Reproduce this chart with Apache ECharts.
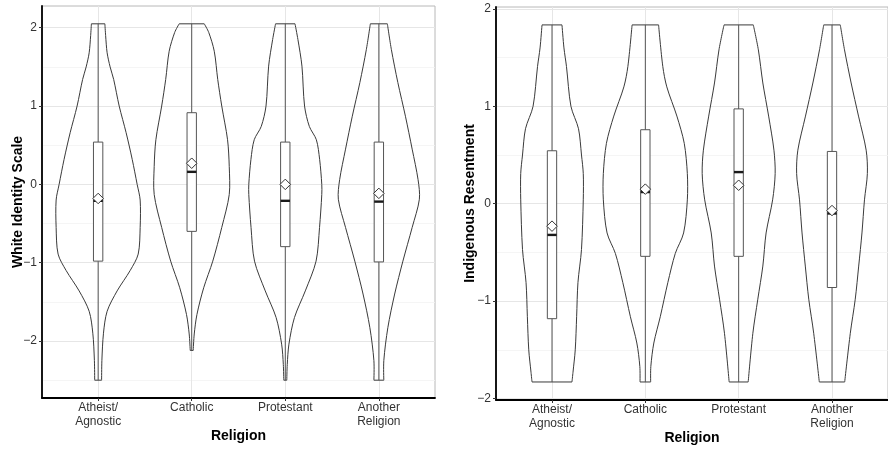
<!DOCTYPE html>
<html>
<head>
<meta charset="utf-8">
<script src="https://cdn.jsdelivr.net/npm/echarts@6/dist/echarts.min.js"></script>
<style>
  html, body { margin: 0; padding: 0; background: #ffffff; }
  #chart { width: 888px; height: 449px; }
</style>
</head>
<body>
<div id="chart"></div>
<script>
// Religion groups on the x axis
const categories = ['Atheist/\nAgnostic', 'Catholic', 'Protestant', 'Another\nReligion'];

// ---- White Identity Scale ----
// Violin outlines: [scale value, half-width in category units]
const wisAtheist = [[2.05,0.072],[1.9,0.080],[1.68,0.096],[1.5,0.128],[1.34,0.166],[1.0,0.225],[0.66,0.299],[0.32,0.364],[0.0,0.417],[-0.2,0.449],[-0.55,0.449],[-0.89,0.428],[-1.1,0.342],[-1.36,0.203],[-1.62,0.096],[-1.9,0.057],[-2.25,0.040],[-2.5,0.037]];
const wisCatholic = [[2.05,0.134],[1.94,0.182],[1.7,0.241],[1.34,0.278],[1.0,0.321],[0.57,0.383],[0.23,0.401],[-0.13,0.401],[-0.55,0.321],[-0.98,0.225],[-1.32,0.128],[-1.66,0.056],[-1.91,0.027],[-2.12,0.016]];
const wisProtestant = [[2.05,0.104],[1.85,0.135],[1.51,0.178],[1.0,0.206],[0.74,0.257],[0.57,0.332],[0.32,0.367],[0.0,0.390],[-0.13,0.390],[-0.55,0.366],[-0.98,0.329],[-1.36,0.214],[-1.7,0.098],[-2.04,0.039],[-2.3,0.021],[-2.5,0.016]];
const wisAnother = [[2.05,0.091],[1.72,0.134],[1.3,0.203],[0.87,0.284],[0.45,0.356],[0.06,0.419],[-0.19,0.433],[-0.55,0.356],[-0.98,0.257],[-1.4,0.169],[-1.83,0.096],[-2.25,0.053],[-2.5,0.053]];
// Box plot summaries
const wisLower  = [-2.5, -2.12, -2.5, -2.5];
const wisQ1     = [-0.98, -0.60, -0.795, -0.99];
const wisMedian = [-0.21, 0.16, -0.21, -0.22];
const wisQ3     = [0.54, 0.915, 0.54, 0.54];
const wisUpper  = [2.05, 2.05, 2.05, 2.05];
const wisMean   = [-0.18, 0.27, 0.0, -0.115];
const wisTicks  = [-2, -1, 0, 1, 2];
const wisMinor  = [-2.5, -1.5, -0.5, 0.5, 1.5];

// ---- Indigenous Resentment ----
const irAtheist = [[1.836,0.107],[1.6,0.128],[1.41,0.155],[1.0,0.203],[0.77,0.284],[0.5,0.316],[0.31,0.335],[0.04,0.335],[-0.47,0.316],[-0.81,0.278],[-1.16,0.264],[-1.5,0.249],[-1.73,0.225],[-1.83,0.214]];
const irCatholic = [[1.836,0.142],[1.41,0.187],[1.2,0.230],[0.9,0.338],[0.62,0.417],[0.31,0.450],[0.04,0.450],[-0.3,0.410],[-0.51,0.321],[-0.81,0.241],[-1.16,0.160],[-1.43,0.091],[-1.67,0.059],[-1.83,0.057]];
const irProtestant = [[1.836,0.157],[1.58,0.211],[1.24,0.259],[0.9,0.321],[0.55,0.378],[0.31,0.391],[0.04,0.364],[-0.3,0.294],[-0.64,0.259],[-0.98,0.205],[-1.33,0.152],[-1.83,0.102]];
const irAnother = [[1.836,0.089],[1.58,0.134],[1.24,0.205],[0.9,0.284],[0.55,0.366],[0.31,0.379],[0.04,0.348],[-0.3,0.321],[-0.64,0.286],[-0.98,0.249],[-1.33,0.196],[-1.83,0.136]];
const irLower  = [-1.83, -1.83, -1.83, -1.83];
const irQ1     = [-1.18, -0.54, -0.54, -0.86];
const irMedian = [-0.32, 0.12, 0.325, -0.10];
const irQ3     = [0.544, 0.76, 0.974, 0.537];
const irUpper  = [1.836, 1.836, 1.836, 1.836];
const irMean   = [-0.23, 0.15, 0.19, -0.07];
const irTicks  = [-2, -1, 0, 1, 2];
const irMinor  = [-1.5, -0.5, 0.5, 1.5];

const FONT = 'Liberation Sans, Arial, Helvetica, sans-serif';
const catPositions = categories.map((c, i) => i + 1);
const minusSign = v => String(v).replace('-', '\u2212');

// Outline of a violin: two smoothed sides joined by flat ends
function violinRenderer(shapes) {
  return function (params, api) {
    const cx = api.value(0);
    const pts = shapes[params.dataIndex];
    const left = pts.map(p => api.coord([cx - p[1], p[0]]));
    const right = pts.map(p => api.coord([cx + p[1], p[0]]));
    const n = pts.length - 1;
    const style = { stroke: '#3a3a3a', lineWidth: 1, fill: 'none' };
    return {
      type: 'group',
      children: [
        { type: 'polyline', shape: { points: left, smooth: 0.3 }, style },
        { type: 'polyline', shape: { points: right, smooth: 0.3 }, style },
        { type: 'line', shape: { x1: left[0][0], y1: left[0][1], x2: right[0][0], y2: right[0][1] }, style },
        { type: 'line', shape: { x1: left[n][0], y1: left[n][1], x2: right[n][0], y2: right[n][1] }, style }
      ]
    };
  };
}

// Whisker line, white box and bold median
function boxRenderer(params, api) {
  const cx = api.value(0);
  const half = 0.05;
  const pLow = api.coord([cx, api.value(1)]);
  const pQ1 = api.coord([cx, api.value(2)]);
  const pMed = api.coord([cx, api.value(3)]);
  const pQ3 = api.coord([cx, api.value(4)]);
  const pUp = api.coord([cx, api.value(5)]);
  const xl = api.coord([cx - half, 0])[0];
  const xr = api.coord([cx + half, 0])[0];
  const lineStyle = { stroke: '#555555', lineWidth: 1, fill: 'none' };
  return {
    type: 'group',
    children: [
      { type: 'line', shape: { x1: pUp[0], y1: pUp[1], x2: pLow[0], y2: pLow[1] }, style: lineStyle },
      { type: 'rect', shape: { x: xl, y: pQ3[1], width: xr - xl, height: pQ1[1] - pQ3[1] },
        style: { fill: '#ffffff', stroke: '#555555', lineWidth: 1 } },
      { type: 'line', shape: { x1: xl, y1: pMed[1], x2: xr, y2: pMed[1] },
        style: { stroke: '#1a1a1a', lineWidth: 2.4 } }
    ]
  };
}

function xAxisFor(gridIndex) {
  return {
    type: 'value', gridIndex, min: 0.4, max: 4.6,
    axisLine: { show: true, onZero: false, lineStyle: { color: '#000', width: 1.8 } },
    axisTick: { show: true, length: 3, customValues: catPositions, lineStyle: { color: '#333' } },
    axisLabel: {
      customValues: catPositions, margin: 3, fontSize: 12, lineHeight: 14,
      color: '#333', fontFamily: FONT,
      formatter: v => categories[Math.round(v) - 1]
    },
    splitLine: { show: true, lineStyle: { color: '#e6e6e6', width: 1 } },
    name: 'Religion', nameLocation: 'middle', nameGap: 31, nameMoveOverlap: false,
    nameTextStyle: { fontSize: 14, fontWeight: 'bold', color: '#000', fontFamily: FONT }
  };
}

function yAxisFor(gridIndex, min, max, ticks, title, gap) {
  return {
    type: 'value', gridIndex, min, max,
    axisLine: { show: true, onZero: false, lineStyle: { color: '#000', width: 1.8 } },
    axisTick: { show: true, length: 3, customValues: ticks, lineStyle: { color: '#333' } },
    axisLabel: { customValues: ticks, margin: 5, fontSize: 12, color: '#333', fontFamily: FONT, formatter: minusSign },
    splitLine: { show: true, lineStyle: { color: '#e6e6e6', width: 1 } },
    name: title, nameLocation: 'middle', nameGap: gap, nameMoveOverlap: false,
    nameTextStyle: { fontSize: 14, fontWeight: 'bold', color: '#000', fontFamily: FONT }
  };
}

function minorAxisFor(gridIndex, min, max, minor) {
  return {
    type: 'value', gridIndex, min, max, position: 'left',
    axisLine: { show: false },
    axisTick: { show: false, customValues: minor },
    axisLabel: { show: false, customValues: minor },
    splitLine: { show: true, lineStyle: { color: '#f2f2f2', width: 0.8 } }
  };
}

function panelSeries(gridAxis, shapes, lower, q1, med, q3, upper, mean) {
  return [
    {
      type: 'custom', xAxisIndex: gridAxis.x, yAxisIndex: gridAxis.y,
      renderItem: violinRenderer(shapes),
      encode: { x: 0, y: 1 },
      data: catPositions.map((p, i) => [p, shapes[i][0][0]]),
      silent: true, z: 2
    },
    {
      type: 'custom', xAxisIndex: gridAxis.x, yAxisIndex: gridAxis.y,
      renderItem: boxRenderer,
      encode: { x: 0, y: [1, 2, 3, 4, 5] },
      data: catPositions.map((p, i) => [p, lower[i], q1[i], med[i], q3[i], upper[i]]),
      silent: true, z: 3
    },
    {
      type: 'scatter', xAxisIndex: gridAxis.x, yAxisIndex: gridAxis.y,
      symbol: 'diamond', symbolSize: 10.5,
      itemStyle: { color: '#ffffff', borderColor: '#333333', borderWidth: 1, opacity: 1 },
      data: catPositions.map((p, i) => [p, mean[i]]),
      silent: true, z: 4
    }
  ];
}

const chart = echarts.init(document.getElementById('chart'), null, { renderer: 'canvas' });
chart.setOption({
  animation: false,
  backgroundColor: '#ffffff',
  grid: [
    { left: 42, top: 6, width: 393, height: 392, outerBoundsMode: 'none', containLabel: false,
      show: true, borderColor: '#b8b8b8', borderWidth: 1, backgroundColor: '#ffffff' },
    { left: 496, top: 7, width: 392, height: 393, outerBoundsMode: 'none', containLabel: false,
      show: true, borderColor: '#b8b8b8', borderWidth: 1, backgroundColor: '#ffffff' }
  ],
  xAxis: [xAxisFor(0), xAxisFor(1)],
  yAxis: [
    yAxisFor(0, -2.7275, 2.2775, wisTicks, 'White Identity Scale', 17),
    yAxisFor(1, -2.015, 2.02, irTicks, 'Indigenous Resentment', 19),
    minorAxisFor(0, -2.7275, 2.2775, wisMinor),
    minorAxisFor(1, -2.015, 2.02, irMinor)
  ],
  series: [
    ...panelSeries({ x: 0, y: 0 }, [wisAtheist, wisCatholic, wisProtestant, wisAnother],
      wisLower, wisQ1, wisMedian, wisQ3, wisUpper, wisMean),
    ...panelSeries({ x: 1, y: 1 }, [irAtheist, irCatholic, irProtestant, irAnother],
      irLower, irQ1, irMedian, irQ3, irUpper, irMean)
  ]
});
</script>
</body>
</html>
